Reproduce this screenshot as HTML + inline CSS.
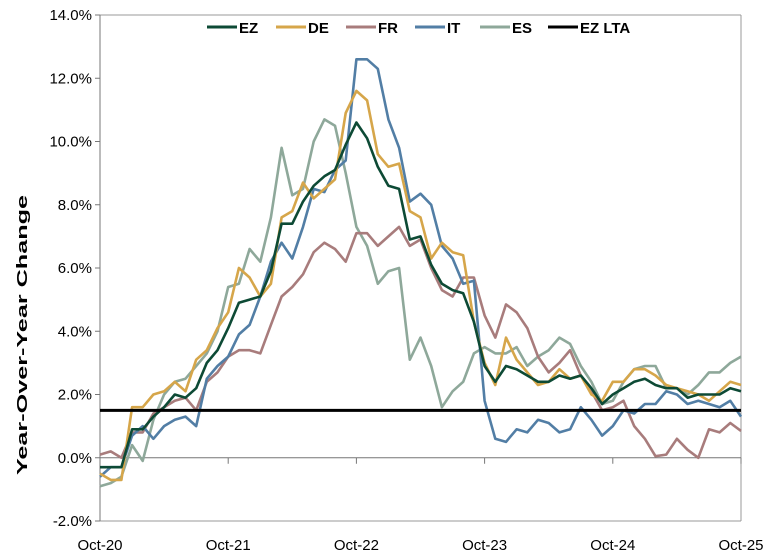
<!DOCTYPE html>
<html><head><meta charset="utf-8"><style>
html,body{margin:0;padding:0;background:#fff;}
svg{display:block;font-family:"Liberation Sans Narrow","Liberation Sans",sans-serif;}
</style></head><body>
<svg id="c" width="770" height="559" viewBox="0 0 770 559" xmlns="http://www.w3.org/2000/svg">
<rect x="0" y="0" width="770" height="559" fill="#fff"/>
<g id="g"></g>
</svg>
<script>
const X0=100,X1=741,Y14=15,Ym2=521;
const x=m=>X0+m*(X1-X0)/60;
const y=v=>Y14+(14-v)*(Ym2-Y14)/16;
const S={
EZ:[-0.3,-0.3,-0.3,0.9,0.9,1.3,1.6,2.0,1.9,2.2,3.0,3.4,4.1,4.9,5.0,5.1,5.9,7.4,7.4,8.1,8.6,8.9,9.1,9.9,10.6,10.1,9.2,8.6,8.5,6.9,7.0,6.1,5.5,5.3,5.2,4.3,2.9,2.4,2.9,2.8,2.6,2.4,2.4,2.6,2.5,2.6,2.2,1.7,2.0,2.2,2.4,2.5,2.3,2.2,2.2,1.9,2.0,2.0,2.0,2.2,2.1],
DE:[-0.5,-0.7,-0.7,1.6,1.6,2.0,2.1,2.4,2.1,3.1,3.4,4.1,4.6,6.0,5.7,5.1,5.5,7.6,7.8,8.7,8.2,8.5,8.8,10.9,11.6,11.3,9.6,9.2,9.3,7.8,7.6,6.3,6.8,6.5,6.4,4.3,3.0,2.3,3.8,3.1,2.7,2.3,2.4,2.8,2.5,2.6,2.0,1.8,2.4,2.4,2.8,2.8,2.6,2.3,2.2,2.1,2.0,1.8,2.1,2.4,2.3],
FR:[0.1,0.2,0.0,0.8,0.8,1.4,1.6,1.8,1.9,1.5,2.4,2.7,3.2,3.4,3.4,3.3,4.2,5.1,5.4,5.8,6.5,6.8,6.6,6.2,7.1,7.1,6.7,7.0,7.3,6.7,6.9,6.0,5.3,5.1,5.7,5.7,4.5,3.8,4.85,4.6,4.1,3.2,2.7,3.0,3.4,2.6,2.1,1.5,1.6,1.8,1.0,0.6,0.05,0.1,0.6,0.25,0.0,0.9,0.8,1.1,0.85],
IT:[-0.6,-0.3,-0.3,0.7,1.0,0.6,1.0,1.2,1.3,1.0,2.5,2.9,3.2,3.9,4.2,5.1,6.2,6.8,6.3,7.3,8.5,8.4,9.1,9.4,12.6,12.6,12.3,10.7,9.8,8.1,8.35,8.0,6.7,6.3,5.5,5.6,1.8,0.6,0.5,0.9,0.8,1.2,1.1,0.8,0.9,1.6,1.2,0.7,1.0,1.5,1.4,1.7,1.7,2.1,2.0,1.7,1.8,1.7,1.6,1.8,1.3],
ES:[-0.9,-0.8,-0.6,0.4,-0.1,1.2,2.0,2.4,2.5,2.9,3.3,4.0,5.4,5.5,6.6,6.2,7.6,9.8,8.3,8.5,10.0,10.7,10.5,9.0,7.3,6.7,5.5,5.9,6.0,3.1,3.8,2.9,1.6,2.1,2.4,3.3,3.5,3.3,3.3,3.5,2.9,3.2,3.4,3.8,3.6,2.9,2.4,1.7,1.8,2.4,2.8,2.9,2.9,2.2,2.2,2.0,2.3,2.7,2.7,3.0,3.2]
};
const C={EZ:"#0d4a35",DE:"#d6a64a",FR:"#a87c7c",IT:"#527ea5",ES:"#8ea89a"};
let h='';
h+=`<line x1="${X0}" y1="${Y14}" x2="${X1}" y2="${Y14}" stroke="#999" stroke-width="1"/>`;
h+=`<line x1="${X1}" y1="${Y14}" x2="${X1}" y2="${Ym2}" stroke="#999" stroke-width="1"/>`;
h+=`<line x1="${X0}" y1="${Ym2}" x2="${X1}" y2="${Ym2}" stroke="#999" stroke-width="1"/>`;
h+=`<line x1="${X0}" y1="${Y14}" x2="${X0}" y2="${Ym2}" stroke="#777" stroke-width="1"/>`;
h+=`<line x1="${X0}" y1="${y(0)}" x2="${X1}" y2="${y(0)}" stroke="#777" stroke-width="1"/>`;
for(let i=0;i<=5;i++){const xx=x(i*12);h+=`<line x1="${xx}" y1="${y(0)}" x2="${xx}" y2="${y(0)+6}" stroke="#777"/>`;
h+=`<text x="${xx}" y="550" font-size="15" text-anchor="middle" fill="#000">Oct-${20+i}</text>`;}
for(let v=-2;v<=14;v+=2){h+=`<line x1="${X0-5}" y1="${y(v)}" x2="${X0}" y2="${y(v)}" stroke="#777"/>`;
h+=`<text x="${X0-8}" y="${y(v)+5}" font-size="15" text-anchor="end" fill="#000">${v.toFixed(1)}%</text>`;}
h+=`<text transform="translate(27,335) rotate(-90)" font-family="Liberation Sans,sans-serif" font-weight="bold" font-size="15" text-anchor="middle" textLength="280" lengthAdjust="spacingAndGlyphs">Year-Over-Year Change</text>`;
for(const k of ["ES","FR","IT","DE","EZ"]){
 const p=S[k].map((v,i)=>x(i).toFixed(1)+","+y(v).toFixed(1)).join(" ");
 h+=`<polyline points="${p}" fill="none" stroke="${C[k]}" stroke-width="2.6" stroke-linejoin="round"/>`;}
h+=`<line x1="${X0}" y1="${y(1.5)}" x2="${X1}" y2="${y(1.5)}" stroke="#000" stroke-width="3"/>`;
const L=[["EZ",207,"#0d4a35"],["DE",276,"#d6a64a"],["FR",346,"#a87c7c"],["IT",415,"#527ea5"],["ES",480,"#8ea89a"],["EZ LTA",548,"#000"]];
for(const [t,lx,c] of L){h+=`<line x1="${lx}" y1="27" x2="${lx+30}" y2="27" stroke="${c}" stroke-width="3"/>`;
h+=`<text x="${lx+32}" y="33" font-family="Liberation Sans,sans-serif" font-weight="bold" font-size="15">${t}</text>`;}
document.getElementById('g').innerHTML=h;
</script>
</body></html>
